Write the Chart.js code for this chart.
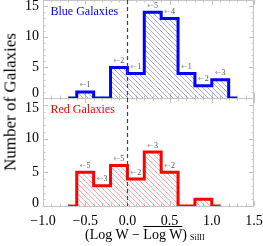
<!DOCTYPE html>
<html>
<head>
<meta charset="utf-8">
<script src="https://cdn.jsdelivr.net/npm/chart.js@4.4.1/dist/chart.umd.min.js"></script>
<style>
  html, body { margin: 0; padding: 0; background: #fff; }
  #wrap { position: relative; width: 263px; height: 246px; overflow: hidden;
          font-family: "Liberation Serif", "DejaVu Serif", serif; }
  #topBox { position: absolute; left: 0; top: 0; width: 263px; height: 112px; }
  #botBox { position: absolute; left: 0; top: 86px; width: 263px; height: 160px; }
  #ytitle { position: absolute; left: 10px; top: 102px; font-size: 17px; white-space: nowrap;
            transform: translate(-50%, -50%) rotate(-90deg); line-height: 17px; }
  #xtitle { position: absolute; left: 85px; top: 228px; font-size: 14px; line-height: 14px; white-space: nowrap; }
  #xtitle .bar { text-decoration: overline; }
  #xtitle sub { font-size: 8px; position: relative; top: 1px; vertical-align: baseline; margin-left: 3px; }
</style>
</head>
<body>
<div id="wrap">
  <div id="topBox"><canvas id="topChart" width="263" height="112"></canvas></div>
  <div id="botBox"><canvas id="botChart" width="263" height="160"></canvas></div>
  <div id="ytitle">Number of Galaxies</div>
  <div id="xtitle">(Log W &minus; <span class="bar">Log W</span>)<sub>SiIII</sub></div>
</div>
<script>
// bin centres (width 0.2) and counts
const blueCenters = [-0.7, -0.5, -0.3, -0.1, 0.1, 0.3, 0.5, 0.7, 0.9, 1.1, 1.3];
const blueCounts = [0, 1, 0, 5, 4, 14, 13, 4, 2, 3, 0];
const blueLimits = [null, 1, null, 2, 1, 5, 4, 1, 2, 3, null];

const redCenters = [-0.7, -0.5, -0.3, -0.1, 0.1, 0.3, 0.5, 0.7, 0.9, 1.1];
const redCounts = [0, 5, 3, 6, 4, 8, 5, 0, 1, 0];
const redLimits = [null, 5, 3, 5, 2, 3, 2, null, null, null];

const xTicks = [-1.0, -0.5, 0.0, 0.5, 1.0, 1.5];
const yTicks = [0, 5, 10, 15];

const FONT = '"Liberation Serif", "DejaVu Serif", serif';

function hatch(color) {
  const c = document.createElement("canvas");
  c.width = 5;
  c.height = 5;
  const g = c.getContext("2d");
  g.strokeStyle = color;
  g.lineWidth = 0.8;
  g.beginPath();
  g.moveTo(-1, -1); g.lineTo(6, 6);
  g.moveTo(-1, 4); g.lineTo(1, 6);
  g.moveTo(4, -1); g.lineTo(6, 1);
  g.stroke();
  return g.createPattern(c, "repeat");
}

/* ---------- frame, inward ticks, y labels, zero line, upper-limit notes ---------- */
const panelPlugin = {
  id: "panel",
  beforeDatasetsDraw(chart, args, opts) {
    const { ctx, chartArea: a, scales } = chart;
    const x = scales.x, y = scales.y;
    ctx.save();
    ctx.strokeStyle = "#c4c4c4";
    ctx.lineWidth = 1;
    ctx.strokeRect(a.left + 0.5, a.top + 0.5, a.right - a.left - 1, a.bottom - a.top);
    ctx.beginPath();
    for (let i = -10; i <= 15; i++) {
      const px = Math.round(x.getPixelForValue(i / 10)) + 0.5;
      const len = i % 5 === 0 ? 5 : 2.5;
      ctx.moveTo(px, a.bottom); ctx.lineTo(px, a.bottom - len);
      ctx.moveTo(px, a.top); ctx.lineTo(px, a.top + len);
    }
    for (let v = 0; v <= 16; v++) {
      const py = Math.round(y.getPixelForValue(v)) + 0.5;
      const len = v % 5 === 0 ? 5 : 2.5;
      ctx.moveTo(a.left, py); ctx.lineTo(a.left + len, py);
      ctx.moveTo(a.right, py); ctx.lineTo(a.right - len, py);
    }
    ctx.stroke();

    // y tick labels
    ctx.fillStyle = "#000";
    ctx.font = "14px " + FONT;
    ctx.textAlign = "right";
    ctx.textBaseline = "middle";
    yTicks.forEach((v) => {
      const nudge = (opts.nudge && opts.nudge[v]) || 0;
      ctx.fillText(String(v), a.left - 4, y.getPixelForValue(v) + nudge);
    });

    // panel name
    ctx.fillStyle = opts.color;
    ctx.font = "12px " + FONT;
    ctx.textAlign = "left";
    ctx.textBaseline = "alphabetic";
    ctx.fillText(opts.label, a.left + 7.5, a.top + 15);
    ctx.restore();
  },
  afterDatasetsDraw(chart, args, opts) {
    const { ctx, chartArea: a, scales } = chart;
    const x = scales.x, y = scales.y;
    ctx.save();
    // dashed zero line
    const zx = Math.round(x.getPixelForValue(0)) + 0.5;
    ctx.strokeStyle = "#444";
    ctx.lineWidth = 1.2;
    ctx.setLineDash([4, 3]);
    ctx.beginPath();
    ctx.moveTo(zx, a.top);
    ctx.lineTo(zx, a.bottom);
    ctx.stroke();
    ctx.setLineDash([]);

    // upper-limit notes
    ctx.textBaseline = "middle";
    ctx.textAlign = "left";
    opts.limits.forEach((n, i) => {
      if (n === null) return;
      const cx = x.getPixelForValue(opts.centers[i]);
      const cy = y.getPixelForValue(opts.counts[i]) - 6.5;
      const arrow = "\u2190";
      const num = String(n);
      ctx.font = '8px "DejaVu Sans", sans-serif';
      const wa = ctx.measureText(arrow).width;
      ctx.font = "8px " + FONT;
      const wn = ctx.measureText(num).width;
      const left = cx - (wa + wn) / 2;
      ctx.fillStyle = "#9a9a9a";
      ctx.font = '8px "DejaVu Sans", sans-serif';
      ctx.fillText(arrow, left, cy);
      ctx.fillStyle = "#555";
      ctx.font = "8px " + FONT;
      ctx.fillText(num, left + wa, cy);
    });
    ctx.restore();
  },
};

function stepData(centers, counts) {
  return centers.map((c, i) => ({ x: c, y: counts[i] }));
}

function baseOptions(padding, panel, showX) {
  return {
    responsive: false,
    animation: false,
    events: [],
    layout: { padding: padding },
    plugins: {
      legend: { display: false },
      tooltip: { enabled: false },
      panel: panel,
    },
    scales: {
      x: {
        type: "linear",
        min: -1.0,
        max: 1.5,
        display: showX,
        grid: { display: false, drawTicks: false },
        border: { display: false },
        afterBuildTicks: (s) => { s.ticks = xTicks.map((v) => ({ value: v })); },
        afterFit: (s) => {
          if (showX) s.height = 40;
          s.paddingLeft = 0;
          s.paddingRight = 0;
        },
        ticks: {
          autoSkip: false,
          maxRotation: 0,
          padding: 7,
          color: "#000",
          font: { family: FONT, size: 14 },
          callback: (v) => (v < 0 ? "\u2212" : "") + Math.abs(v).toFixed(1),
        },
      },
      y: {
        min: 0,
        max: 16,
        grid: { display: false, drawTicks: false },
        border: { display: false },
        ticks: { display: false },
        afterFit: (s) => { s.width = 43; },
      },
    },
  };
}

new Chart(document.getElementById("topChart"), {
  type: "line",
  data: {
    datasets: [
      {
        label: "Blue Galaxies",
        data: stepData(blueCenters, blueCounts),
        stepped: "middle",
        borderColor: "#0000ff",
        borderWidth: 3,
        pointRadius: 0,
        fill: "origin",
        backgroundColor: hatch("rgba(70,70,255,0.6)"),
      },
    ],
  },
  options: baseOptions(
    { left: 0, right: 9, top: 0, bottom: 14 },
    { label: "Blue Galaxies", color: "#0000ff", limits: blueLimits, centers: blueCenters, counts: blueCounts, nudge: { 0: -5 } },
    false
  ),
  plugins: [panelPlugin],
});

new Chart(document.getElementById("botChart"), {
  type: "line",
  data: {
    datasets: [
      {
        label: "Red Galaxies",
        data: stepData(redCenters, redCounts),
        stepped: "middle",
        borderColor: "#ff0000",
        borderWidth: 3,
        pointRadius: 0,
        fill: "origin",
        backgroundColor: hatch("rgba(255,70,70,0.6)"),
      },
    ],
  },
  options: baseOptions(
    { left: 0, right: 9, top: 12, bottom: 0 },
    { label: "Red Galaxies", color: "#ff0000", limits: redLimits, centers: redCenters, counts: redCounts, nudge: { 0: -3, 15: 4 } },
    true
  ),
  plugins: [panelPlugin],
});
</script>
</body>
</html>
